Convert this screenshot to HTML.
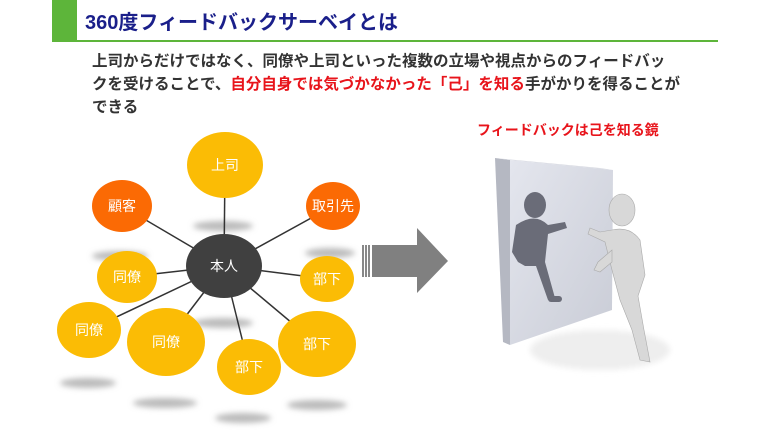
<!DOCTYPE html>
<html><head><meta charset="utf-8"><style>
html,body{margin:0;padding:0;background:#fff;}
body{width:768px;height:432px;position:relative;overflow:hidden;font-family:"Liberation Sans","Noto Sans CJK JP",sans-serif;}
.t{position:absolute;white-space:nowrap;}
</style></head><body>
<div style="position:absolute;left:52px;top:0;width:25px;height:41px;background:#5db53a"></div>
<div style="position:absolute;left:52px;top:40px;width:666px;height:2px;background:#5db53a"></div>
<div class="t" style="left:85px;top:6px;font-size:20px;font-weight:bold;color:#1a1f8a;">360度フィードバックサーベイとは</div>
<div class="t" style="left:92px;top:50px;font-size:15.5px;font-weight:bold;color:#333;line-height:23px;">上司からだけではなく、同僚や上司といった複数の立場や視点からのフィードバッ<br>クを受けることで、<span style="color:#e8141b">自分自身では気づかなかった「己」を知る</span>手がかりを得ることが<br>できる</div>
<div class="t" style="left:477px;top:120px;font-size:14px;font-weight:bold;color:#e8141b;">フィードバックは己を知る鏡</div>
<svg width="768" height="432" style="position:absolute;left:0;top:0" font-family="Liberation Sans, Noto Sans CJK JP, sans-serif">
<defs><filter id="b" x="-50%" y="-50%" width="200%" height="200%"><feGaussianBlur stdDeviation="3"/></filter>
<linearGradient id="m" x1="0" y1="0" x2="1" y2="1"><stop offset="0" stop-color="#e4e6ee"/><stop offset="1" stop-color="#c9ccd6"/></linearGradient></defs>
<g fill="#bbb" filter="url(#b)">
<ellipse cx="223" cy="226" rx="30" ry="5"/><ellipse cx="120" cy="256" rx="28" ry="5"/><ellipse cx="330" cy="253" rx="25" ry="5"/>
<ellipse cx="223" cy="323" rx="30" ry="5"/><ellipse cx="88" cy="383" rx="28" ry="5"/><ellipse cx="165" cy="403" rx="32" ry="5"/>
<ellipse cx="317" cy="405" rx="30" ry="5"/><ellipse cx="243" cy="418" rx="28" ry="5"/>
</g>
<g stroke="#333" stroke-width="1.5">
<line x1="224" y1="266" x2="225" y2="165"/><line x1="224" y1="266" x2="122" y2="206"/><line x1="224" y1="266" x2="333" y2="206"/>
<line x1="224" y1="266" x2="127" y2="277"/><line x1="224" y1="266" x2="327" y2="279"/><line x1="224" y1="266" x2="89" y2="330"/>
<line x1="224" y1="266" x2="166" y2="342"/><line x1="224" y1="266" x2="249" y2="367"/><line x1="224" y1="266" x2="317" y2="344"/>
</g>
<g fill="#fbbc05">
<ellipse cx="225" cy="165" rx="38" ry="33"/><ellipse cx="127" cy="277" rx="30" ry="26"/><ellipse cx="327" cy="279" rx="27" ry="23"/>
<ellipse cx="89" cy="330" rx="32" ry="28"/><ellipse cx="166" cy="342" rx="39" ry="34"/><ellipse cx="249" cy="367" rx="32" ry="28"/>
<ellipse cx="317" cy="344" rx="39" ry="33"/></g>
<g fill="#fb6a04"><ellipse cx="122" cy="206" rx="30" ry="26"/><ellipse cx="333" cy="206" rx="27" ry="24"/></g>
<ellipse cx="224" cy="266" rx="38" ry="32" fill="#404040"/>
<g fill="#fff" font-size="14" text-anchor="middle">
<text x="225" y="170">上司</text><text x="122" y="211">顧客</text><text x="333" y="211">取引先</text><text x="224" y="271">本人</text>
<text x="127" y="282">同僚</text><text x="327" y="284">部下</text><text x="89" y="335">同僚</text><text x="166" y="347">同僚</text>
<text x="249" y="372">部下</text><text x="317" y="349">部下</text></g>
<rect x="362" y="245" width="2" height="32" fill="#888"/><rect x="365" y="245" width="2" height="32" fill="#888"/><rect x="368" y="245" width="2" height="32" fill="#888"/>
<polygon points="372,245 417,245 417,228 448,261 417,293 417,277 372,277" fill="#808080"/>
<polygon points="495,158 510,160 510,345 503,342" fill="#b5b8c2"/>
<polygon points="495,158 510,160 613,170 600,168" fill="#d8dae2"/>
<polygon points="510,160 613,170 612,310 510,345" fill="url(#m)"/>
<ellipse cx="600" cy="350" rx="70" ry="20" fill="#eee" filter="url(#b)"/>
<g fill="#6a6c78">
<ellipse cx="535" cy="205" rx="11" ry="13"/>
<path d="M516 225 Q535 212 548 225 L565 222 L567 228 L548 234 L545 262 L555 298 L548 300 L536 266 L525 266 L518 262 L512 252 Z"/>
<rect x="548" y="296" width="14" height="6" rx="3"/>
</g>
<g fill="#d8d8d8" stroke="#aaa" stroke-width="0.6">
<ellipse cx="622" cy="210" rx="13" ry="16"/>
<path d="M600 232 L590 228 L588 234 L605 242 L612 270 L620 300 L632 330 L640 360 L650 362 L644 330 L638 296 L645 275 L640 240 Q630 226 612 230 Z"/>
<path d="M612 250 L598 262 L594 270 L600 272 L612 262 Z"/>
</g>
</svg>
</body></html>
